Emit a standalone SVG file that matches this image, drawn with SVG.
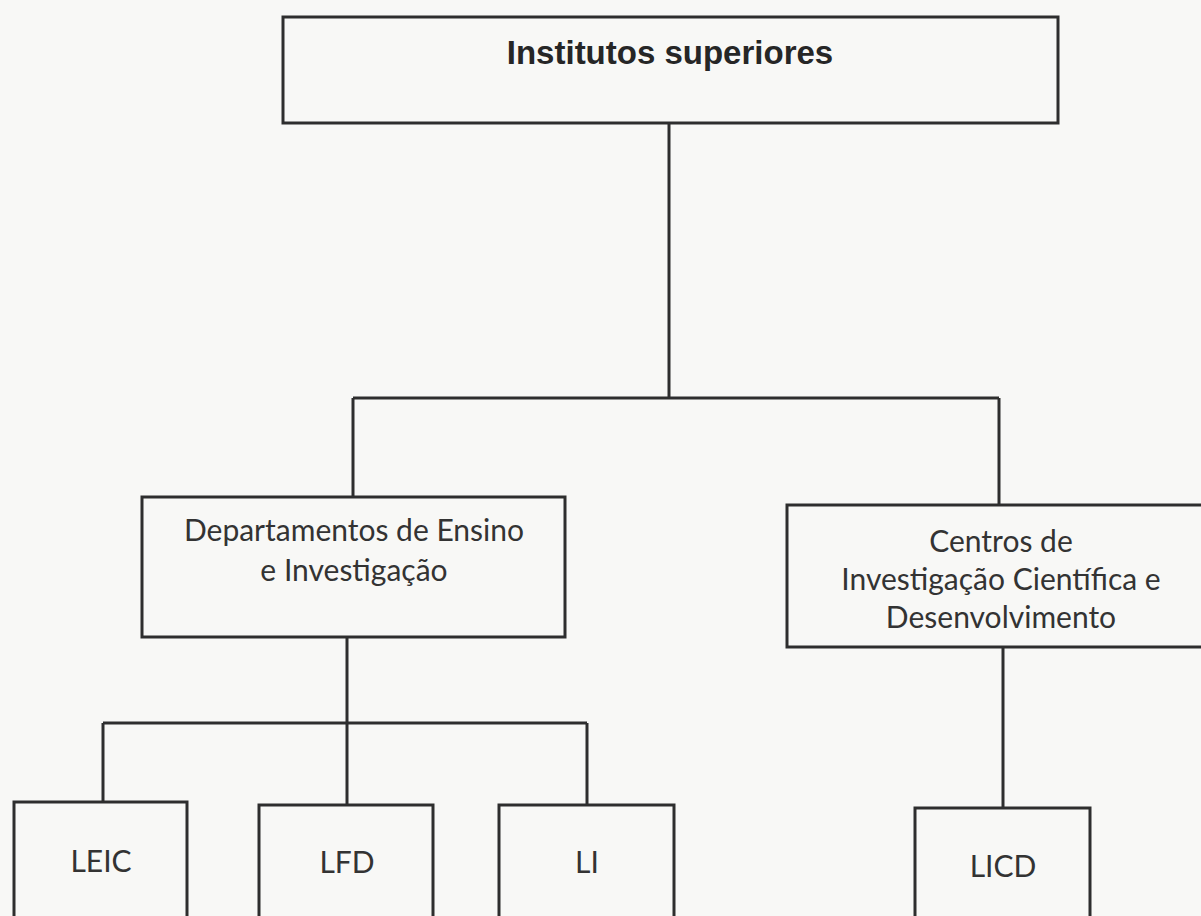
<svg xmlns="http://www.w3.org/2000/svg" width="1201" height="916" viewBox="0 0 1201 916">
  <style>
    .box { fill: none; stroke: #2e2e2e; stroke-width: 3; }
    .conn { fill: none; stroke: #2e2e2e; stroke-width: 3; }
    .title { font-family: "Liberation Sans", Arial, sans-serif; font-weight: bold; font-size: 33px; fill: #262626; text-anchor: middle; }
    .lbl { font-family: Lato, "Open Sans", sans-serif; font-size: 30px; fill: #333333; text-anchor: middle; }
  </style>
  <rect x="0" y="0" width="1201" height="916" fill="#f8f8f6"/>
  <g id="connectors">
    <path class="conn" d="M669 123 V398 M353 398 H999 M353 398 V497 M999 398 V505"/>
    <path class="conn" d="M347 637 V723 M103 723 H587 M103 723 V802 M347 723 V805 M587 723 V805"/>
    <path class="conn" d="M1003 647 V808"/>
  </g>
  <g id="node-institutos">
    <rect class="box" x="283" y="17" width="775" height="106"/>
    <text class="title" x="670" y="64">Institutos superiores</text>
  </g>
  <g id="node-departamentos">
    <rect class="box" x="142" y="497" width="423" height="140"/>
    <text class="lbl" x="354" y="541">Departamentos de Ensino</text>
    <text class="lbl" x="354" y="581">e Investigação</text>
  </g>
  <g id="node-centros">
    <rect class="box" x="787" y="505" width="428" height="142"/>
    <text class="lbl" x="1001" y="552">Centros de</text>
    <text class="lbl" x="1001" y="590">Investigação Científica e</text>
    <text class="lbl" x="1001" y="628">Desenvolvimento</text>
  </g>
  <g id="node-leic">
    <rect class="box" x="14" y="802" width="173" height="130"/>
    <text class="lbl" x="101" y="872">LEIC</text>
  </g>
  <g id="node-lfd">
    <rect class="box" x="259" y="805" width="174" height="130"/>
    <text class="lbl" x="347" y="873">LFD</text>
  </g>
  <g id="node-li">
    <rect class="box" x="499" y="805" width="175" height="130"/>
    <text class="lbl" x="587" y="873">LI</text>
  </g>
  <g id="node-licd">
    <rect class="box" x="915" y="808" width="175" height="130"/>
    <text class="lbl" x="1003" y="877">LICD</text>
  </g>
</svg>
